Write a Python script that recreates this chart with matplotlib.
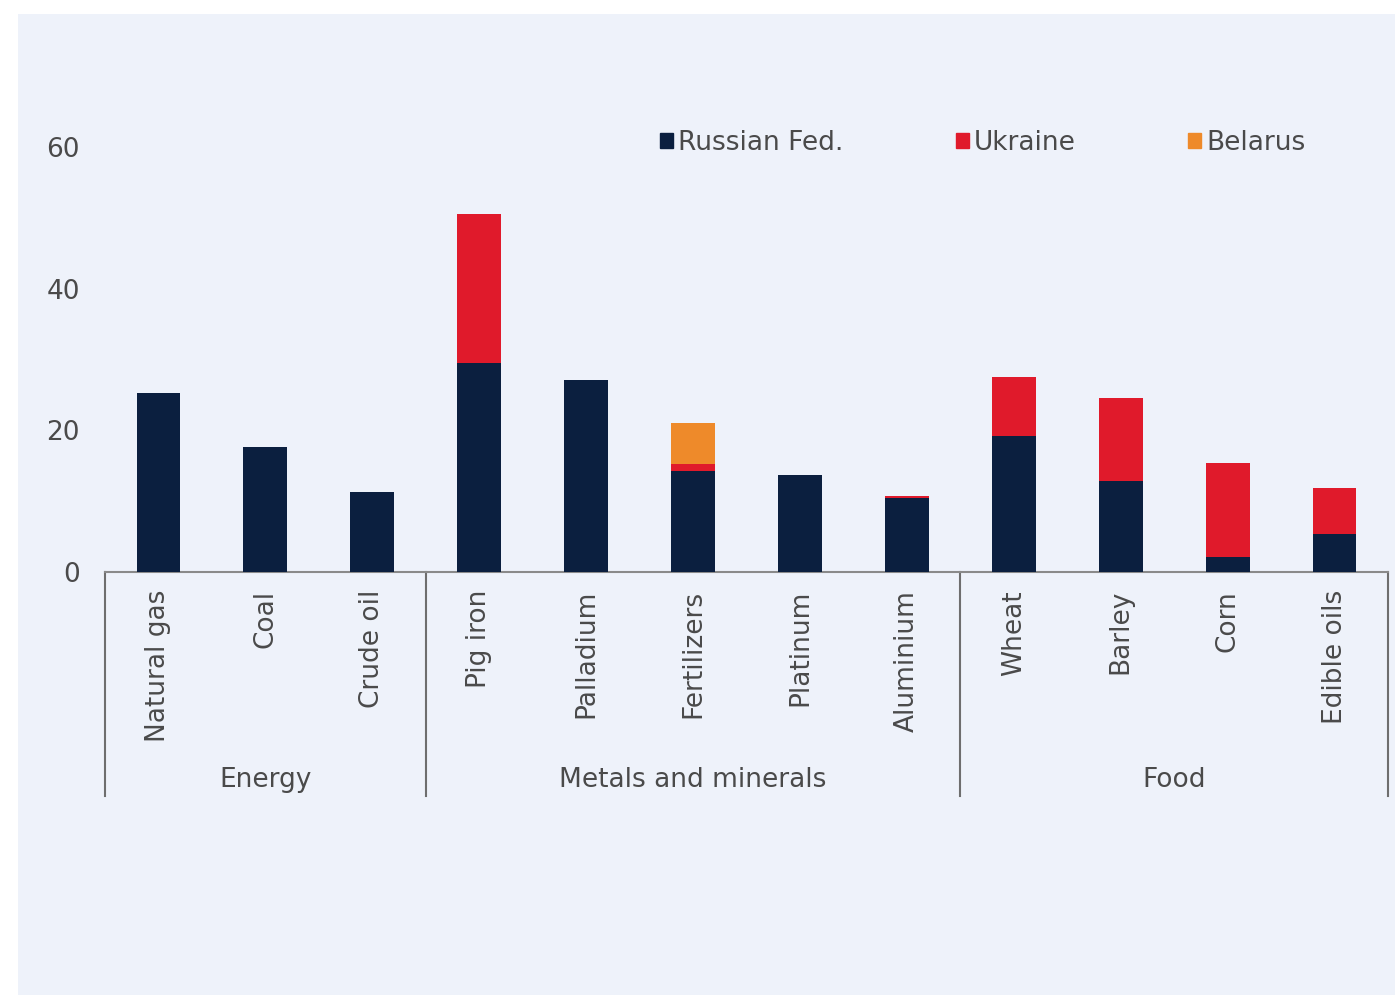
import matplotlib
matplotlib.use('Agg')
import matplotlib.pyplot as plt
from matplotlib.patches import Patch, Rectangle
import matplotlib.transforms as mtransforms
import numpy as np

# share of world exports, per commodity
commodities = ['Natural gas', 'Coal', 'Crude oil',
               'Pig iron', 'Palladium', 'Fertilizers', 'Platinum', 'Aluminium',
               'Wheat', 'Barley', 'Corn', 'Edible oils']
russia = [25.3, 17.6, 11.3, 29.5, 27.1, 14.2, 13.7, 10.4, 19.2, 12.9, 2.1, 5.4]
ukraine = [0, 0, 0, 21.0, 0, 1.0, 0, 0.3, 8.4, 11.6, 13.3, 6.5]
belarus = [0, 0, 0, 0, 0, 5.9, 0, 0, 0, 0, 0, 0]

groups = ['Energy', 'Metals and minerals', 'Food']
group_sizes = [3, 5, 4]

c_rus = '#0b1f3f'
c_ukr = '#e01a2b'
c_bel = '#ee8a2a'
txt = '#4a4a4a'
panel = '#eef2fa'
fs = 19

plt.rcParams['font.family'] = ['DejaVu Sans']

fig = plt.figure(figsize=(13.95, 9.97), dpi=100)
fig.patch.set_facecolor('white')
fig.patches.append(Rectangle((18 / 1395, 1 - 995 / 997), 1377 / 1395, (995 - 14) / 997,
                             transform=fig.transFigure, facecolor=panel,
                             edgecolor='none', zorder=-10))

ax = fig.add_axes([105 / 1395, 1 - 572 / 997, 1283 / 1395, 425 / 997])
ax.patch.set_alpha(0)

x = np.arange(len(commodities))
w = 0.41
rus = np.array(russia)
ukr = np.array(ukraine)
bel = np.array(belarus)
ax.bar(x, rus, w, color=c_rus, zorder=3)
ax.bar(x, ukr, w, bottom=rus, color=c_ukr, zorder=3)
ax.bar(x, bel, w, bottom=rus + ukr, color=c_bel, zorder=3)

ax.set_xlim(-0.5, len(commodities) - 0.5)
ax.set_ylim(0, 60)
ax.set_yticks([0, 20, 40, 60])
ax.tick_params(axis='y', length=0, pad=18, labelsize=fs, labelcolor=txt)
ax.set_xticks(x)
ax.set_xticklabels(commodities, rotation=90, fontsize=fs, color=txt, va='top')
ax.tick_params(axis='x', length=0, pad=13)

for s in ['top', 'right', 'left']:
    ax.spines[s].set_visible(False)
ax.spines['bottom'].set_color('#8a8a8a')
ax.spines['bottom'].set_linewidth(1.5)

# group brackets below the axis
trans = mtransforms.blended_transform_factory(ax.transData, ax.transAxes)
bottom_y = -224 / 425
edges = np.concatenate([[0], np.cumsum(group_sizes)]) - 0.5
for e in edges:
    ax.plot([e, e], [0, bottom_y], color='#6e6e6e', lw=1.5,
            transform=trans, clip_on=False)
for g, lo, hi in zip(groups, edges[:-1], edges[1:]):
    ax.text((lo + hi) / 2, -208 / 425, g, transform=trans, ha='center',
            va='center', fontsize=fs, color=txt)

handles = [Patch(color=c_rus), Patch(color=c_ukr), Patch(color=c_bel)]
fig.legend(handles, ['Russian Fed.', 'Ukraine', 'Belarus'], ncol=3,
           loc='center left', bbox_to_anchor=(636 / 1395, 1 - 143 / 997),
           frameon=False, fontsize=fs, labelcolor=txt,
           handlelength=0.5, handleheight=0.5, handletextpad=0.2,
           columnspacing=4.25)

fig.savefig('out.png', dpi=100)
